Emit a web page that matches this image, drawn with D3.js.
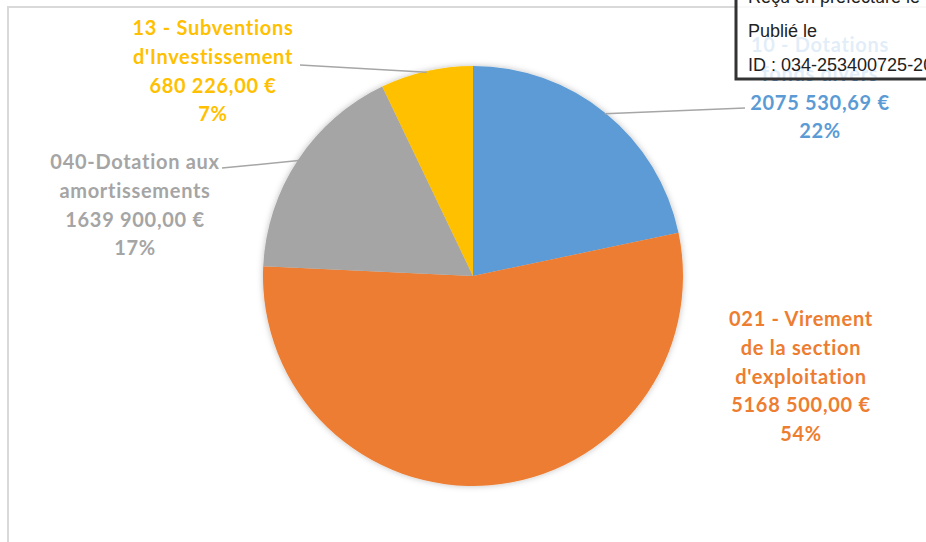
<!DOCTYPE html>
<html>
<head>
<meta charset="utf-8">
<script src="https://cdn.jsdelivr.net/npm/d3@7"></script>
<style>
  html, body { margin: 0; padding: 0; background: #fff; }
  svg { display: block; }
</style>
</head>
<body>
<div id="chart"></div>
<script>
const categories = [
    ["10 - Dotations", "fonds divers"],
    ["021 - Virement", "de la section", "d'exploitation"],
    ["040-Dotation aux", "amortissements"],
    ["13 - Subventions", "d'Investissement"]
];
const values = [2075530.69, 5168500.00, 1639900.00, 680226.00];
const colors = ["#5b9bd5", "#ed7d31", "#a5a5a5", "#ffc000"];

const width = 926;
const height = 542;
const cx = 473, cy = 276, radius = 210;

// label block centre x, first line y, and where the leader line meets the text
const labelPos = [
    {x: 820, y: 45, lineTo: [745, 108]},
    {x: 801, y: 319, lineTo: null},
    {x: 135, y: 162, lineTo: [222, 168]},
    {x: 213, y: 28, lineTo: [300, 65]}
];
const lineGap = 28.8;

const total = d3.sum(values);
function euro(v) {
    const s = v.toFixed(2).split('.');
    const int = s[0];
    const head = int.length > 3 ? int.slice(0, -3) + ' ' + int.slice(-3) : int;
    return head + ',' + s[1] + ' €';
}

const svg = d3.select('#chart')
    .append('svg')
        .attr('width', width)
        .attr('height', height);

// chart frame
svg.append('path')
    .attr('d', `M8,${height} L8,7 L${width},7`)
    .attr('fill', 'none')
    .attr('stroke', '#d9d9d9')
    .attr('stroke-width', 2);

const defs = svg.append('defs');
const shadow = defs.append('filter')
    .attr('id', 'shadow')
    .attr('x', '-20%').attr('y', '-20%')
    .attr('width', '140%').attr('height', '140%');
shadow.append('feDropShadow')
    .attr('dx', 0).attr('dy', 0)
    .attr('stdDeviation', 3)
    .attr('flood-color', '#000')
    .attr('flood-opacity', 0.25);

const pie = d3.pie().sort(null).value(d => d);
const arcs = pie(values);
const arc = d3.arc().innerRadius(0).outerRadius(radius);
const edge = d3.arc().innerRadius(radius - 1).outerRadius(radius - 1);

const pieG = svg.append('g')
    .attr('transform', `translate(${cx},${cy})`)
    .attr('filter', 'url(#shadow)');

pieG.selectAll('path')
    .data(arcs)
    .join('path')
        .attr('d', arc)
        .attr('fill', (d, i) => colors[i]);

// leader lines
arcs.forEach((d, i) => {
    const p = labelPos[i];
    if (!p.lineTo) return;
    const [ex, ey] = edge.centroid(d);
    svg.append('line')
        .attr('x1', cx + ex)
        .attr('y1', cy + ey)
        .attr('x2', p.lineTo[0])
        .attr('y2', p.lineTo[1])
        .attr('stroke', '#a6a6a6')
        .attr('stroke-width', 1.5);
});

// data labels
arcs.forEach((d, i) => {
    const p = labelPos[i];
    const lines = categories[i].concat([
        euro(values[i]),
        Math.round(values[i] / total * 100) + '%'
    ]);
    const t = svg.append('text')
        .attr('text-anchor', 'middle')
        .attr('font-family', 'Lato, "Open Sans", sans-serif')
        .attr('font-weight', 'bold')
        .attr('font-size', '20px')
        .attr('letter-spacing', '0.7px')
        .attr('fill', colors[i]);
    lines.forEach((l, j) => {
        t.append('tspan')
            .attr('x', p.x)
            .attr('y', p.y + j * lineGap)
            .attr('dy', '0.35em')
            .text(l);
    });
});

// stamp box laid over the top right corner
const stamp = svg.append('g');
stamp.append('rect')
    .attr('x', 736)
    .attr('y', -10)
    .attr('width', 220)
    .attr('height', 89)
    .attr('fill', 'rgba(255,255,255,0.82)')
    .attr('stroke', '#333')
    .attr('stroke-width', 3);
const stampLines = ['Reçu en préfecture le', 'Publié le', 'ID : 034-253400725-20'];
stamp.selectAll('text')
    .data(stampLines)
    .join('text')
        .attr('x', 748)
        .attr('y', (d, i) => -3 + i * 34)
        .attr('dy', '0.35em')
        .attr('font-family', '"Liberation Sans", Arial, sans-serif')
        .attr('font-size', '18px')
        .attr('fill', '#222')
        .text(d => d);
</script>
</body>
</html>
